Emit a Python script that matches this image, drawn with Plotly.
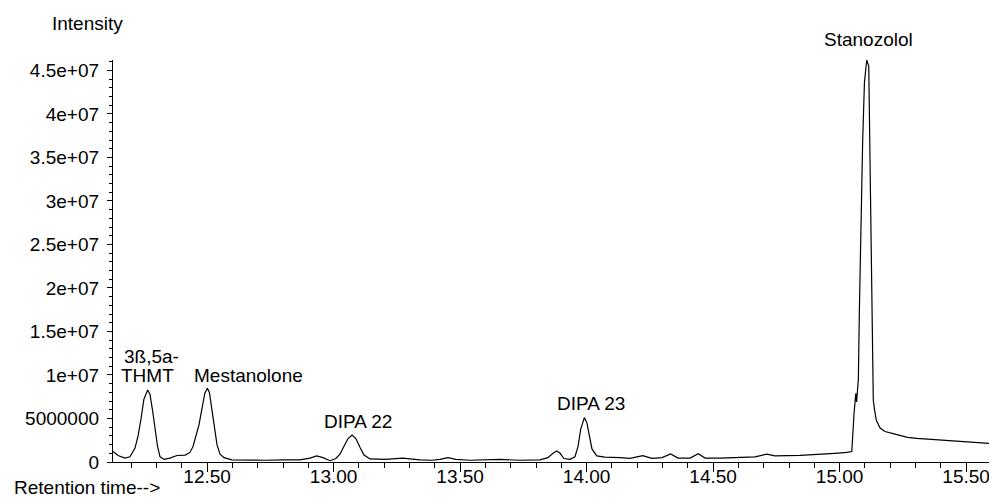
import plotly.graph_objects as go

# Retention time (min)
retention_time = [
    12.128, 12.148, 12.175, 12.195, 12.215, 12.227, 12.239, 12.250, 12.265, 12.274,
    12.284, 12.294, 12.304, 12.314, 12.330, 12.353, 12.381, 12.413, 12.432, 12.444,
    12.456, 12.468, 12.480, 12.491, 12.501, 12.509, 12.519, 12.529, 12.539, 12.551,
    12.567, 12.598, 12.650, 12.729, 12.808, 12.867, 12.907, 12.933, 12.958, 12.986,
    13.009, 13.025, 13.041, 13.057, 13.073, 13.088, 13.104, 13.120, 13.144, 13.203,
    13.274, 13.341, 13.389, 13.420, 13.452, 13.483, 13.539, 13.658, 13.737, 13.816,
    13.847, 13.867, 13.882, 13.895, 13.910, 13.934, 13.954, 13.966, 13.977, 13.991,
    14.001, 14.011, 14.021, 14.040, 14.072, 14.132, 14.171, 14.222, 14.258, 14.298,
    14.332, 14.361, 14.409, 14.441, 14.468, 14.527, 14.606, 14.665, 14.712, 14.744,
    14.843, 14.922, 14.981, 15.028, 15.048, 15.057, 15.064, 15.067, 15.070, 15.074,
    15.078, 15.085, 15.091, 15.098, 15.107, 15.115, 15.117, 15.123, 15.128, 15.133,
    15.138, 15.145, 15.160, 15.179, 15.219, 15.268, 15.305, 15.357, 15.436, 15.515,
    15.621,
]

# Abundance, in millions of counts
intensity_millions = [
    1.20, 0.75, 0.46, 0.60, 1.60, 3.00, 5.00, 7.20, 8.28, 7.80,
    6.00, 3.80, 1.80, 0.60, 0.30, 0.45, 0.75, 0.80, 1.10, 1.75,
    2.90, 4.30, 6.20, 7.90, 8.47, 8.00, 6.00, 3.80, 2.00, 0.90,
    0.50, 0.25, 0.20, 0.20, 0.25, 0.25, 0.45, 0.70, 0.50, 0.15,
    0.40, 0.90, 1.80, 2.70, 3.10, 2.70, 1.70, 0.80, 0.35, 0.30,
    0.45, 0.25, 0.20, 0.30, 0.50, 0.30, 0.20, 0.30, 0.20, 0.25,
    0.50, 1.00, 1.26, 1.00, 0.40, 0.30, 0.60, 1.80, 3.80, 5.10,
    4.50, 2.80, 1.50, 0.70, 0.55, 0.50, 0.42, 0.72, 0.42, 0.50,
    0.92, 0.45, 0.45, 0.95, 0.45, 0.45, 0.55, 0.60, 0.90, 0.70,
    0.75, 0.85, 1.00, 1.10, 1.20, 5.60, 7.90, 6.90, 8.60, 9.50,
    17.40, 29.10, 36.90, 43.60, 46.20, 45.50, 40.80, 29.10, 17.40, 7.10,
    6.00, 4.80, 3.90, 3.50, 3.20, 2.84, 2.72, 2.60, 2.45, 2.30,
    2.07,
]

x_tick_values = [12.5, 13.0, 13.5, 14.0, 14.5, 15.0, 15.5]
x_tick_labels = ["12.50", "13.00", "13.50", "14.00", "14.50", "15.00", "15.50"]

y_tick_values = [0, 5, 10, 15, 20, 25, 30, 35, 40, 45]
y_tick_labels = ["0", "5000000", "1e+07", "1.5e+07", "2e+07", "2.5e+07",
                 "3e+07", "3.5e+07", "4e+07", "4.5e+07"]

# peak label lines (one entry per text line)
peak_labels = ["3ß,5a-", "THMT", "Mestanolone", "DIPA 22", "DIPA 23", "Stanozolol"]
peak_label_times = [12.282, 12.264, 12.664, 13.096, 14.016, 15.113]
peak_label_heights = [12.10, 9.89, 9.89, 4.63, 6.67, 45.0]
peak_label_shift = [0, 0, 0, 0, 0, 31]

FONT = "Liberation Sans, Arial, Helvetica, sans-serif"
FS = 19

# page body has an 8 px default margin; figure is sized to sit on the same pixels
fig = go.Figure()
fig.add_trace(go.Scatter(
    x=retention_time, y=intensity_millions, mode="lines",
    line=dict(color="black", width=1.2), hoverinfo="skip", showlegend=False,
))

for txt, xt, yt, ys in zip(peak_labels, peak_label_times, peak_label_heights, peak_label_shift):
    fig.add_annotation(x=xt, y=yt, yshift=ys, text=txt, showarrow=False, xanchor="center",
                       yanchor="middle", font=dict(family=FONT, size=FS, color="black"),
                       align="center")

fig.add_annotation(xref="paper", yref="paper", x=-0.0713, y=1.0, yshift=37,
                   text="Intensity", showarrow=False, xanchor="left", yanchor="middle",
                   font=dict(family=FONT, size=FS, color="black"))
fig.add_annotation(xref="paper", yref="paper", x=-0.1144, y=0, yshift=-25,
                   text="Retention time-->", showarrow=False, xanchor="left",
                   yanchor="middle", font=dict(family=FONT, size=FS, color="black"))

fig.update_layout(
    width=989, height=494,
    margin=dict(l=105, r=1, t=52, b=40),
    paper_bgcolor="white", plot_bgcolor="white",
    font=dict(family=FONT, size=FS, color="black"),
)
fig.update_xaxes(
    range=[12.128, 15.618], showgrid=False, zeroline=False,
    showline=True, linecolor="black", linewidth=1.3,
    tickmode="array", tickvals=x_tick_values, ticktext=x_tick_labels,
    ticks="outside", ticklen=9, tickwidth=1, tickcolor="black",
    ticklabelstandoff=-12,
    minor=dict(ticks="outside", ticklen=5, dtick=0.1, tick0=0, tickcolor="black", showgrid=False),
)
fig.update_yaxes(
    range=[0, 46.2], showgrid=False, zeroline=False,
    showline=True, linecolor="black", linewidth=1.3,
    tickmode="array", tickvals=y_tick_values, ticktext=y_tick_labels,
    ticks="outside", ticklen=5, tickwidth=1, tickcolor="black",
    ticklabelstandoff=4,
    minor=dict(ticks="outside", ticklen=3, dtick=1, tick0=0, tickcolor="black", showgrid=False),
)

fig.write_html("out.html")
